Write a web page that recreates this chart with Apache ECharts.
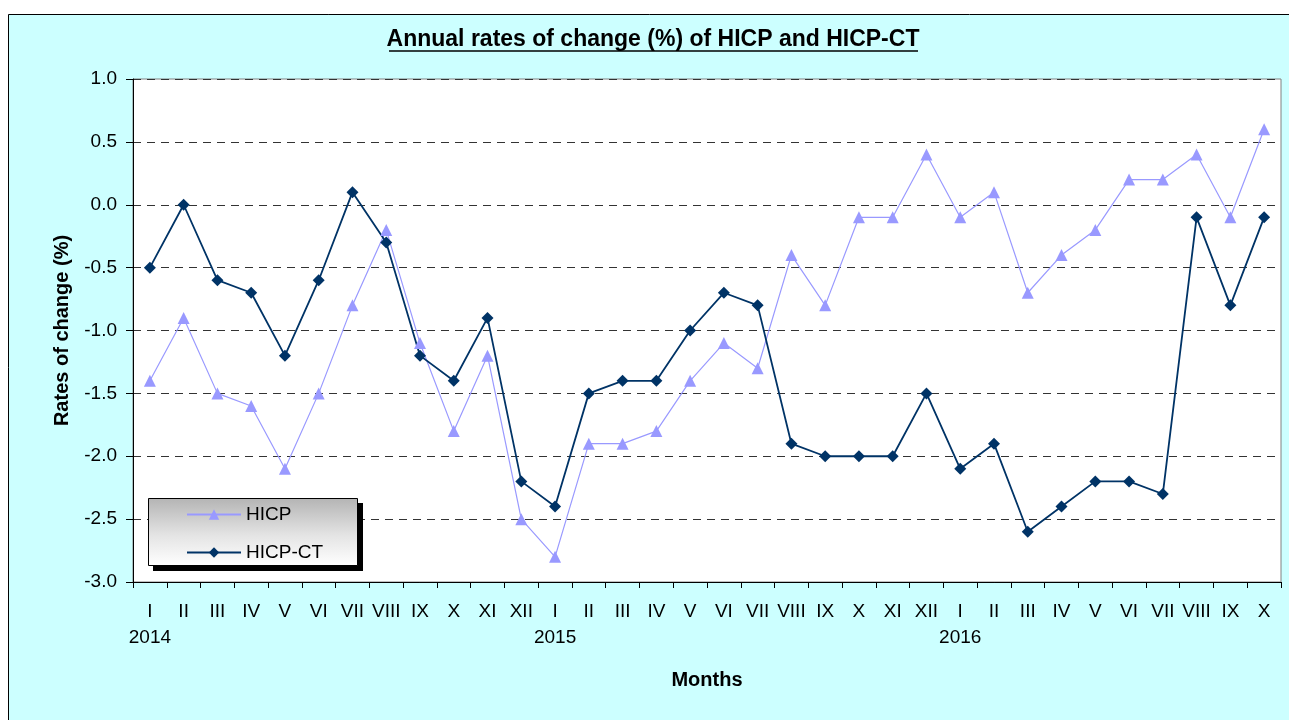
<!DOCTYPE html>
<html><head><meta charset="utf-8">
<script src="https://cdn.jsdelivr.net/npm/echarts@6/dist/echarts.min.js"></script>
<style>html,body{margin:0;padding:0;background:#fff;}#c{width:1289px;height:720px;}</style>
</head><body><div id="c"></div>
<script>
const months = ['I','II','III','IV','V','VI','VII','VIII','IX','X','XI','XII',
  'I','II','III','IV','V','VI','VII','VIII','IX','X','XI','XII',
  'I','II','III','IV','V','VI','VII','VIII','IX','X'];
const years = ['2014','','','','','','','','','','','','2015','','','','','','','','','','','','2016','','','','','','','','',''];
const hicp = [-1.4,-0.9,-1.5,-1.6,-2.1,-1.5,-0.8,-0.2,-1.1,-1.8,-1.2,-2.5,
  -2.8,-1.9,-1.9,-1.8,-1.4,-1.1,-1.3,-0.4,-0.8,-0.1,-0.1,0.4,
  -0.1,0.1,-0.7,-0.4,-0.2,0.2,0.2,0.4,-0.1,0.6];
const hicpCT = [-0.5,0.0,-0.6,-0.7,-1.2,-0.6,0.1,-0.3,-1.2,-1.4,-0.9,-2.2,
  -2.4,-1.5,-1.4,-1.4,-1.0,-0.7,-0.8,-1.9,-2.0,-2.0,-2.0,-1.5,
  -2.1,-1.9,-2.6,-2.4,-2.2,-2.2,-2.3,-0.1,-0.8,-0.1];
const FONT = 'Liberation Sans, Arial, sans-serif';
const TITLE = 'Annual rates of change (%) of HICP and HICP-CT';
const chart = echarts.init(document.getElementById('c'), null, {renderer:'canvas'});
chart.setOption({
  animation:false,
  textStyle:{fontFamily:FONT},
  graphic:[
    {type:'rect', z:-10, shape:{x:8.5,y:14.5,width:1300,height:720}, style:{fill:'#CCFFFF', stroke:'#000', lineWidth:1}},
    {type:'text', z:10, x:653, y:40, style:{text:TITLE, font:'bold 23px '+FONT, fill:'#000', textAlign:'center', textVerticalAlign:'middle'}},
    {type:'line', z:10, shape:{x1:389,y1:51,x2:918,y2:51}, style:{stroke:'#000', lineWidth:1.5}},
    {type:'rect', z:20, shape:{x:153,y:503,width:210,height:68}, style:{fill:'#000'}},
    {type:'rect', z:21, shape:{x:148.5,y:498.5,width:209,height:67},
     style:{fill:{type:'linear',x:0,y:0,x2:0,y2:1,colorStops:[{offset:0,color:'#b4b4b4'},{offset:0.55,color:'#e4e4e4'},{offset:1,color:'#ffffff'}]}, stroke:'#000', lineWidth:1}}
  ],
  grid:{left:133, top:79, right:8, bottom:138, show:true, backgroundColor:'#fff', borderColor:'#808080', borderWidth:1},
  legend:{orient:'vertical', left:186, top:505, padding:0, itemGap:19, z:30,
    itemWidth:54, itemHeight:13,
    textStyle:{fontSize:19, color:'#000', fontFamily:FONT, padding:[0,0,0,0]},
    data:['HICP','HICP-CT']},
  xAxis:[
    {type:'category', data:months, boundaryGap:true, position:'bottom',
     axisLine:{onZero:false, lineStyle:{color:'#000', width:1}}, axisTick:{show:true, length:6, lineStyle:{color:'#000'}},
     axisLabel:{interval:0, fontSize:19, color:'#000', margin:20, fontFamily:FONT},
     name:'Months', nameLocation:'middle', nameGap:88, nameTextStyle:{fontSize:20, fontWeight:'bold', color:'#000'}},
    {type:'category', data:years, boundaryGap:true, position:'bottom', offset:34,
     axisLine:{show:false, onZero:false}, axisTick:{show:false},
     axisLabel:{interval:0, fontSize:19, color:'#000', margin:12, fontFamily:FONT}}
  ],
  yAxis:{type:'value', min:-3, max:1, interval:0.5,
    axisLine:{show:true, lineStyle:{color:'#000'}}, axisTick:{show:true, length:7, lineStyle:{color:'#000'}},
    axisLabel:{fontSize:19, color:'#000', margin:16, formatter:v=>v.toFixed(1), fontFamily:FONT},
    splitLine:{show:true, lineStyle:{color:'#333', type:[8,6], width:1}},
    name:'Rates of change (%)', nameLocation:'middle', nameGap:61, nameRotate:90,
    nameTextStyle:{fontSize:20, fontWeight:'bold', color:'#000'}},
  series:[
    {name:'HICP', type:'line', data:hicp, symbol:'triangle', symbolSize:12,
     itemStyle:{color:'#9999FF'}, lineStyle:{color:'#9999FF', width:1.2}},
    {name:'HICP-CT', type:'line', data:hicpCT, symbol:'diamond', symbolSize:12,
     itemStyle:{color:'#003366'}, lineStyle:{color:'#003366', width:1.8}}
  ]
});
</script></body></html>
